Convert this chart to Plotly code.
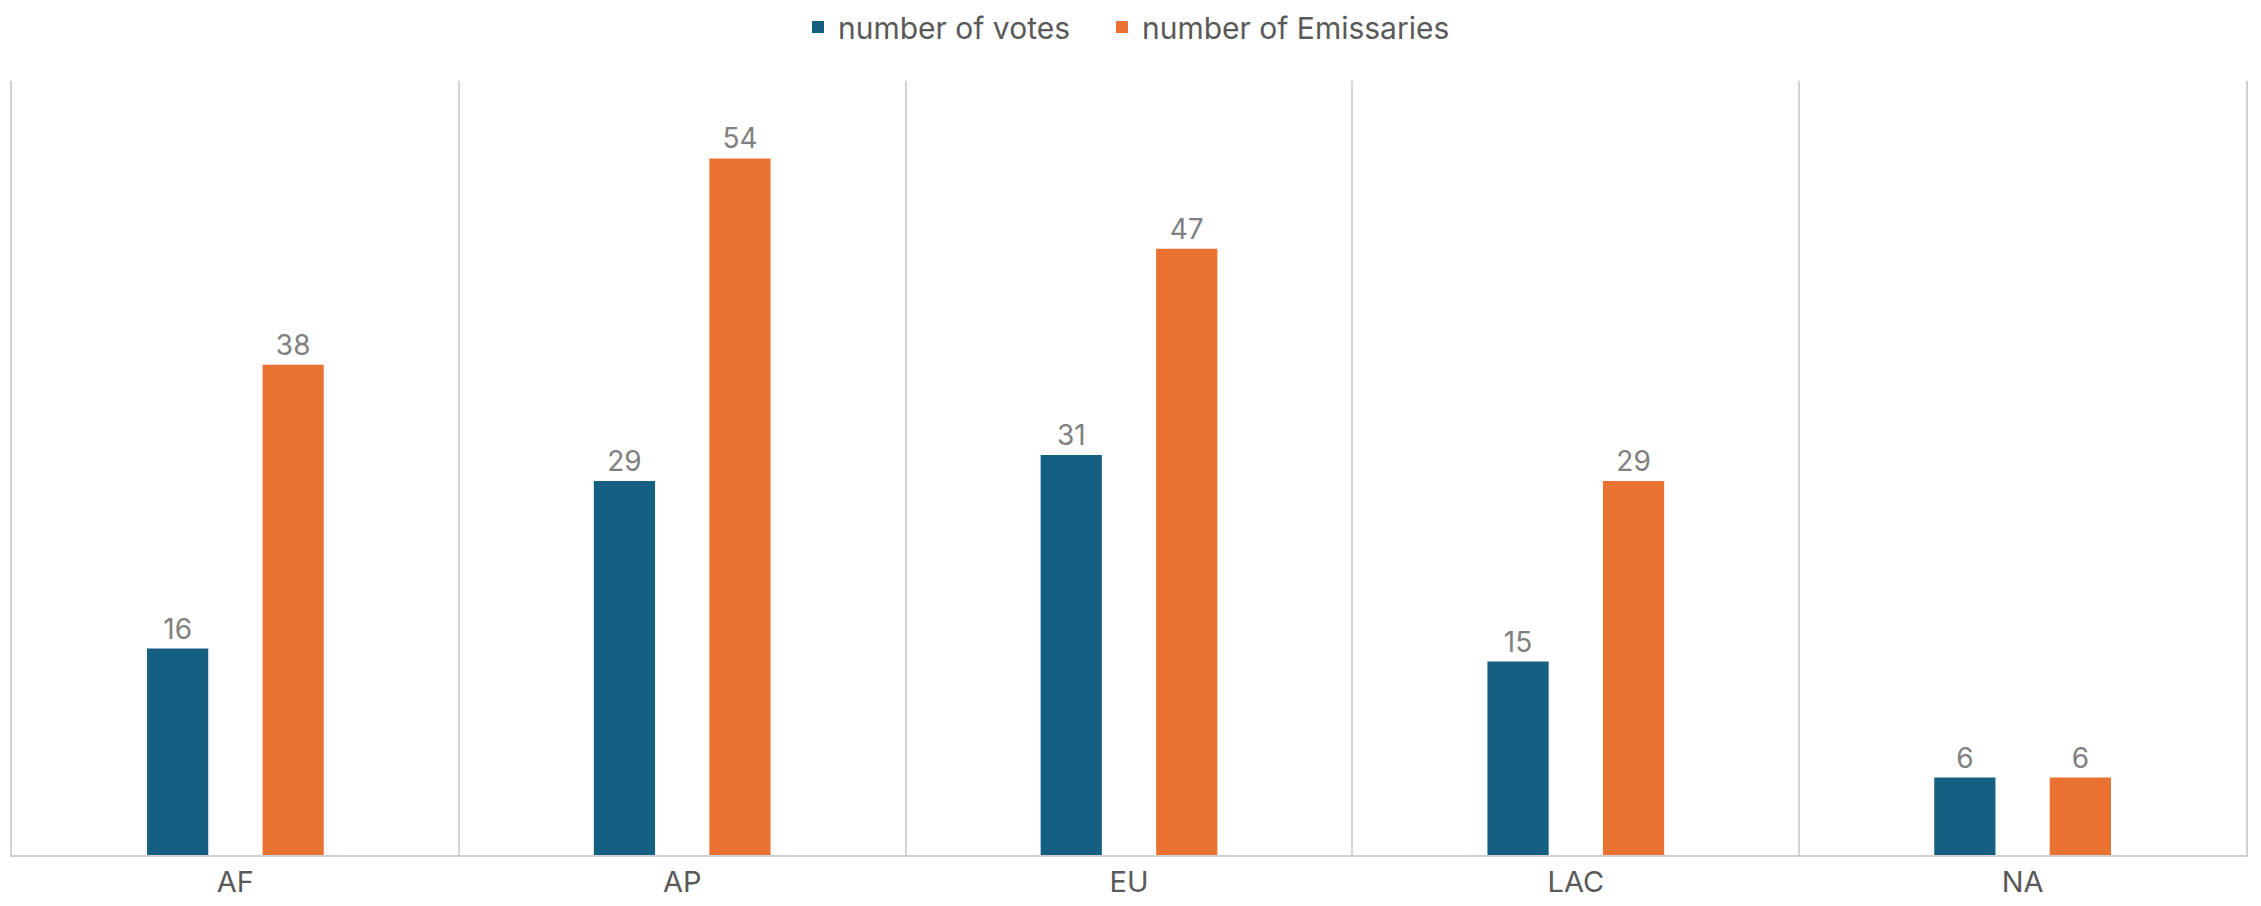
import plotly.graph_objects as go

categories = ["AF", "AP", "EU", "LAC", "NA"]
votes = [16, 29, 31, 15, 6]
emissaries = [38, 54, 47, 29, 6]
series_names = ["number of votes", "number of Emissaries"]

BLUE = "#156082"
ORANGE = "#E97132"
FONT = "Inter, Liberation Sans, Arial, sans-serif"

fig = go.Figure()
fig.add_trace(go.Bar(
    x=categories, y=votes, name=series_names[0], legend="legend",
    showlegend=True,
    marker=dict(color=BLUE, line=dict(width=0)),
    text=votes, textposition="outside", cliponaxis=False,
    textfont=dict(size=28, color="#808080", family=FONT),
))
fig.add_trace(go.Bar(
    x=categories, y=emissaries, name=series_names[1], legend="legend2",
    showlegend=True,
    marker=dict(color=ORANGE, line=dict(width=0)),
    text=emissaries, textposition="outside", cliponaxis=False,
    textfont=dict(size=28, color="#808080", family=FONT),
))

W, H = 2245, 890
leg_common = dict(
    orientation="h", xref="container", xanchor="left",
    yref="container", y=1 - 19 / H, yanchor="middle",
    font=dict(size=30, color="#595959", family=FONT),
    bgcolor="rgba(0,0,0,0)",
)
fig.update_layout(
    width=W, height=H, autosize=False, showlegend=True,
    barmode="group", bargap=0.483, bargroupgap=0.47,
    plot_bgcolor="white", paper_bgcolor="white",
    margin=dict(l=4, r=W - 2238, t=73, b=H - 847, autoexpand=False),
    font=dict(family=FONT, color="#595959"),
    legend=dict(x=790 / W, **leg_common),
    legend2=dict(x=1094 / W, **leg_common),
    xaxis=dict(
        type="category", showgrid=True, tickson="boundaries",
        gridcolor="#d4d4d4", gridwidth=2,
        showline=True, linecolor="#d0d0d0", linewidth=2,
        ticks="", tickfont=dict(size=29, color="#595959", family=FONT),
        range=[-0.5, 4.5], fixedrange=True,
    ),
    yaxis=dict(
        range=[0, 60], showgrid=False, zeroline=False,
        showticklabels=False, ticks="",
        showline=True, mirror=True, linecolor="#d0d0d0", linewidth=2,
    ),
)

fig.write_html("out.html")
